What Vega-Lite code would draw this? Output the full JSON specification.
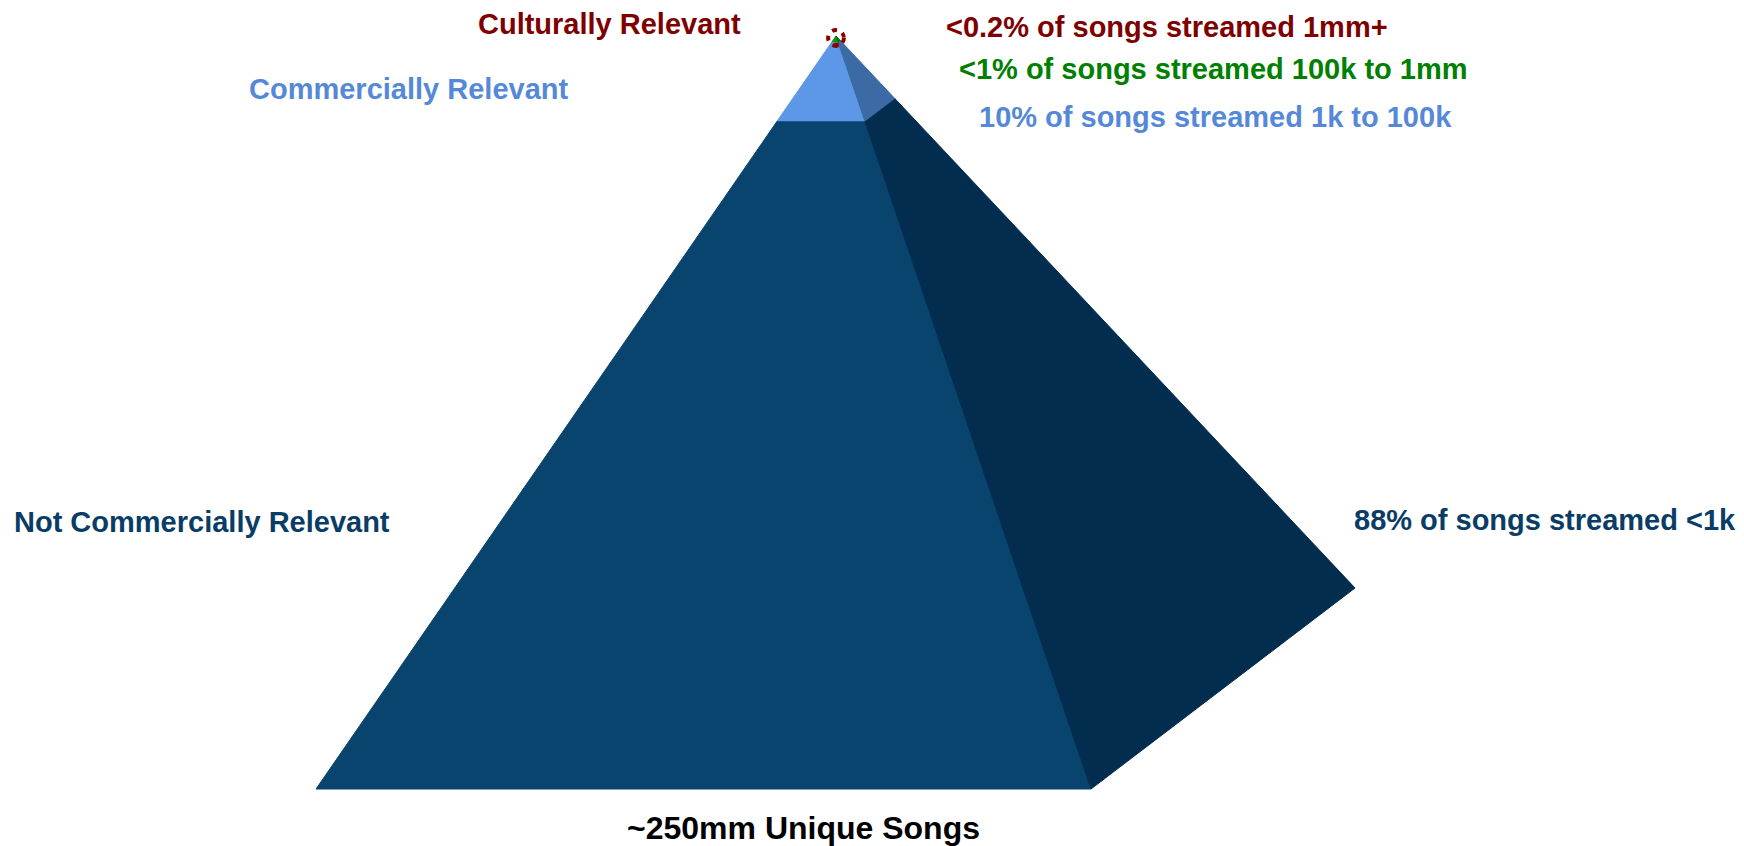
{
  "$schema": "https://vega.github.io/schema/vega-lite/v6.json",
  "width": 1744,
  "height": 846,
  "padding": 0,
  "autosize": {"type": "none"},
  "background": "white",
  "config": {"view": {"stroke": null}},
  "datasets": {
    "faces": [
      {"poly": "p1", "part": "top-front", "i": 0, "x": 836, "y": 36},
      {"poly": "p1", "part": "top-front", "i": 1, "x": 831.3, "y": 42.8},
      {"poly": "p1", "part": "top-front", "i": 2, "x": 838.3, "y": 42.8},
      {"poly": "p2", "part": "top-side", "i": 0, "x": 836, "y": 36},
      {"poly": "p2", "part": "top-side", "i": 1, "x": 838.3, "y": 42.8},
      {"poly": "p2", "part": "top-side", "i": 2, "x": 840.7, "y": 41},
      {"poly": "p3", "part": "commercial-front", "i": 0, "x": 831.3, "y": 42.8},
      {"poly": "p3", "part": "commercial-front", "i": 1, "x": 838.3, "y": 42.8},
      {"poly": "p3", "part": "commercial-front", "i": 2, "x": 865.1, "y": 121.8},
      {"poly": "p3", "part": "commercial-front", "i": 3, "x": 776.7, "y": 121.8},
      {"poly": "p4", "part": "commercial-side", "i": 0, "x": 838.3, "y": 42.8},
      {"poly": "p4", "part": "commercial-side", "i": 1, "x": 840.7, "y": 41},
      {"poly": "p4", "part": "commercial-side", "i": 2, "x": 895.2, "y": 98.9},
      {"poly": "p4", "part": "commercial-side", "i": 3, "x": 865.1, "y": 121.8},
      {"poly": "p5", "part": "base-front", "i": 0, "x": 776.7, "y": 121.8},
      {"poly": "p5", "part": "base-front", "i": 1, "x": 865.1, "y": 121.8},
      {"poly": "p5", "part": "base-front", "i": 2, "x": 1091, "y": 789},
      {"poly": "p5", "part": "base-front", "i": 3, "x": 316, "y": 789},
      {"poly": "p6", "part": "base-side", "i": 0, "x": 865.1, "y": 121.8},
      {"poly": "p6", "part": "base-side", "i": 1, "x": 895.2, "y": 98.9},
      {"poly": "p6", "part": "base-side", "i": 2, "x": 1355, "y": 588},
      {"poly": "p6", "part": "base-side", "i": 3, "x": 1091, "y": 789}
    ],
    "labels": [
      {"label": "Culturally Relevant", "tier": "cultural", "x": 478, "y": 33.5},
      {"label": "<0.2% of songs streamed 1mm+", "tier": "cultural", "x": 946, "y": 36.5},
      {"label": "<1% of songs streamed 100k to 1mm", "tier": "hit", "x": 959, "y": 78.5},
      {"label": "10% of songs streamed 1k to 100k", "tier": "commercial", "x": 979, "y": 126.5},
      {"label": "Commercially Relevant", "tier": "commercial", "x": 249, "y": 98.5},
      {"label": "Not Commercially Relevant", "tier": "base", "x": 14, "y": 532},
      {"label": "88% of songs streamed <1k", "tier": "base", "x": 1354, "y": 530}
    ],
    "title": [
      {"label": "~250mm Unique Songs", "x": 627, "y": 839}
    ],
    "apex": [
      {"kind": "ring", "x": 836, "y": 38},
      {"kind": "tip", "x": 836.5, "y": 45}
    ]
  },
  "layer": [
    {
      "data": {"name": "faces"},
      "mark": {"type": "line", "interpolate": "linear-closed", "strokeWidth": 1},
      "encoding": {
        "x": {"field": "x", "type": "quantitative", "scale": {"domain": [0, 1744], "nice": false, "zero": false}, "axis": null},
        "y": {"field": "y", "type": "quantitative", "scale": {"domain": [0, 846], "nice": false, "zero": false, "reverse": true}, "axis": null},
        "detail": {"field": "poly"},
        "order": {"field": "i", "type": "quantitative"},
        "fill": {"field": "part", "type": "nominal", "legend": null,
          "scale": {"domain": ["top-front", "top-side", "commercial-front", "commercial-side", "base-front", "base-side"],
                    "range": ["#0A9A0A", "#067206", "#5D97E8", "#3C6AA4", "#09446F", "#022D4E"]}},
        "stroke": {"field": "part", "type": "nominal", "legend": null,
          "scale": {"domain": ["top-front", "top-side", "commercial-front", "commercial-side", "base-front", "base-side"],
                    "range": ["#0A9A0A", "#067206", "#5D97E8", "#3C6AA4", "#09446F", "#022D4E"]}}
      }
    },
    {
      "data": {"name": "apex"},
      "transform": [{"filter": "datum.kind === 'ring'"}],
      "mark": {"type": "point", "shape": "circle", "filled": false, "size": 250, "stroke": "#8B0000", "strokeWidth": 4, "strokeDash": [5, 6], "opacity": 1},
      "encoding": {
        "x": {"field": "x", "type": "quantitative"},
        "y": {"field": "y", "type": "quantitative"}
      }
    },
    {
      "data": {"name": "apex"},
      "transform": [{"filter": "datum.kind === 'tip'"}],
      "mark": {"type": "point", "shape": "square", "filled": true, "size": 20, "color": "#8B0000", "opacity": 1},
      "encoding": {
        "x": {"field": "x", "type": "quantitative"},
        "y": {"field": "y", "type": "quantitative"}
      }
    },
    {
      "data": {"name": "labels"},
      "mark": {"type": "text", "align": "left", "baseline": "alphabetic", "font": "Liberation Sans", "fontWeight": "bold", "fontSize": 29},
      "encoding": {
        "x": {"field": "x", "type": "quantitative"},
        "y": {"field": "y", "type": "quantitative"},
        "text": {"field": "label"},
        "color": {"field": "tier", "type": "nominal", "legend": null,
          "scale": {"domain": ["cultural", "hit", "commercial", "base"], "range": ["#7F0000", "#008000", "#5589D8", "#0A3D66"]}}
      }
    },
    {
      "data": {"name": "title"},
      "mark": {"type": "text", "align": "left", "baseline": "alphabetic", "font": "Liberation Sans", "fontWeight": "bold", "fontSize": 32, "color": "#000000"},
      "encoding": {
        "x": {"field": "x", "type": "quantitative"},
        "y": {"field": "y", "type": "quantitative"},
        "text": {"field": "label"}
      }
    }
  ]
}
